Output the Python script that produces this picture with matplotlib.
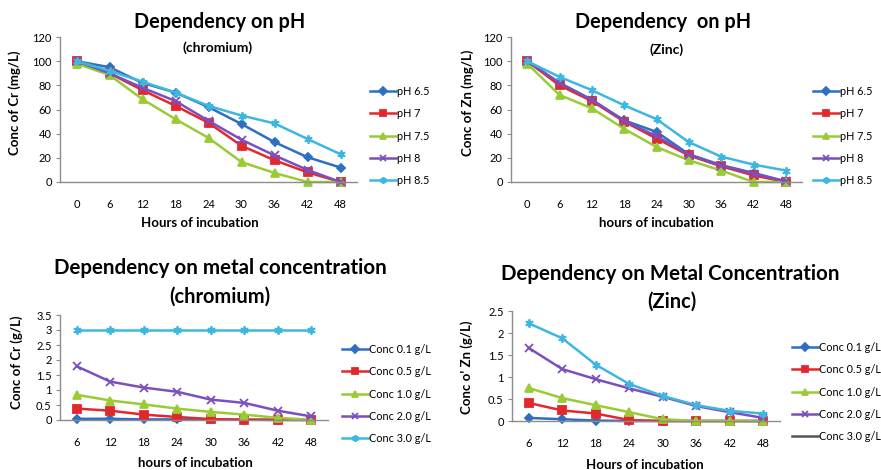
import matplotlib
matplotlib.use('Agg')
import matplotlib.pyplot as plt
from matplotlib.lines import Line2D

plt.rcParams['font.family'] = ['Lato', 'DejaVu Sans']

# data
hours_ph = ['0', '6', '12', '18', '24', '30', '36', '42', '48']
ph_labels = ['pH 6.5', 'pH 7', 'pH 7.5', 'pH 8', 'pH 8.5']

cr_ph65 = [100, 95, 82, 74, 62, 48, 33, 20.5, 12]
cr_ph7 = [100, 90, 76, 63, 49, 30, 18, 8, 0]
cr_ph75 = [98, 88.5, 68.5, 52, 36.5, 16.5, 7.5, 0, 0]
cr_ph8 = [100, 90, 78, 67, 50.7, 35, 22, 10, 0]
cr_ph85 = [100, 92, 83, 74, 63, 55, 48.5, 35.6, 23]

zn_ph65 = [100, 82, 68, 51, 41.5, 23, 14, 7.5, 0.5]
zn_ph7 = [100, 80, 67, 50, 36, 22, 13, 5.5, 0]
zn_ph75 = [98, 72, 61, 44, 29, 18, 9.5, 0, 0]
zn_ph8 = [100, 82, 68, 50.5, 38, 22.6, 13.6, 7, 0.5]
zn_ph85 = [100, 87, 76, 63.5, 52, 33, 21, 14.4, 9.5]

hours_conc = ['6', '12', '18', '24', '30', '36', '42', '48']
conc_labels = ['Conc 0.1 g/L', 'Conc 0.5 g/L', 'Conc 1.0 g/L', 'Conc 2.0 g/L', 'Conc 3.0 g/L']

cr_c01 = [0.04, 0.04, 0.02, 0.02, 0.02, 0.01, 0.01, 0.01]
cr_c05 = [0.38, 0.31, 0.18, 0.1, 0.03, 0.01, 0.0, 0.0]
cr_c10 = [0.84, 0.65, 0.52, 0.38, 0.27, 0.18, 0.07, 0.01]
cr_c20 = [1.79, 1.28, 1.08, 0.94, 0.68, 0.57, 0.31, 0.12]
cr_c30 = [3.0, 3.0, 3.0, 3.0, 3.0, 3.0, 3.0, 3.0]

zn_c01 = [0.07, 0.04, 0.01, 0.0, 0.0, 0.0, 0.0, 0.0]
zn_c05 = [0.41, 0.24, 0.17, 0.02, 0.0, 0.0, 0.0, 0.0]
zn_c10 = [0.75, 0.52, 0.36, 0.2, 0.04, 0.0, 0.0, 0.0]
zn_c20 = [1.66, 1.18, 0.95, 0.74, 0.55, 0.34, 0.2, 0.07]
zn_c30 = [2.22, 1.88, 1.28, 0.84, 0.57, 0.36, 0.23, 0.17]

colors = ['#2f6fc0', '#e2282c', '#9acb34', '#7b4fbf', '#3cb8e0']
markers = ['D', 's', '^', 'x', (6, 2, 0)]
msizes = [4.5, 5.5, 5.5, 6, 6]

fig = plt.figure(figsize=(8.81, 4.70), dpi=100)
W, H = 881.0, 470.0


def make_axes(l, r, t, b):
    return fig.add_axes([l / W, 1 - b / H, (r - l) / W, (b - t) / H])


def style(ax, ymax, ystep, xlabel, ylabel, xl, yl):
    for s in ['top', 'right']:
        ax.spines[s].set_visible(False)
    for s in ['left', 'bottom']:
        ax.spines[s].set_color('#8c8c8c')
        ax.spines[s].set_linewidth(1.0)
    ax.set_ylim(0, ymax)
    ticks = [i * ystep for i in range(int(round(ymax / ystep)) + 1)]
    ax.set_yticks(ticks)
    ax.set_yticklabels(['%g' % v for v in ticks])
    ax.tick_params(axis='y', length=3, color='#8c8c8c', labelsize=8, pad=3)
    ax.tick_params(axis='x', length=0, labelsize=8, pad=12)
    ax.set_xlabel(xlabel, fontsize=9.5, fontweight='bold', va='center')
    ax.set_ylabel(ylabel, fontsize=9.5, fontweight='bold', va='center')
    ax.xaxis.set_label_coords(*xl)
    ax.yaxis.set_label_coords(*yl)


def draw(ax, x, series, labels):
    for i, ys in enumerate(series):
        ax.plot(x, ys, color=colors[i], lw=1.8, marker=markers[i],
                markersize=msizes[i], mew=1.3, label=labels[i], clip_on=False)
    ax.set_xlim(-0.5, len(x) - 0.5)


def legend(ax, x0, yc, handles=None, labels=None):
    kw = dict(loc='center left', bbox_to_anchor=(x0 / W, 1 - yc / H),
              bbox_transform=fig.transFigure, frameon=False, fontsize=7.8,
              handlelength=2.4, handletextpad=0.1, labelspacing=1.05,
              borderpad=0, borderaxespad=0, markerscale=0.8)
    if handles is None:
        ax.legend(**kw)
    else:
        ax.legend(handles, labels, **kw)


# top left: chromium, pH
ax1 = make_axes(60, 357, 37, 182)
draw(ax1, hours_ph, [cr_ph65, cr_ph7, cr_ph75, cr_ph8, cr_ph85], ph_labels)
style(ax1, 120, 20, 'Hours of incubation', 'Conc of Cr (mg/L)',
      (0.47, -0.283), (-0.152, 0.545))
legend(ax1, 370, 136)

# top right: zinc, pH
ax2 = make_axes(511, 802, 37, 182)
draw(ax2, hours_ph, [zn_ph65, zn_ph7, zn_ph75, zn_ph8, zn_ph85], ph_labels)
style(ax2, 120, 20, 'hours of incubation', 'Conc of Zn (mg/L)',
      (0.50, -0.283), (-0.148, 0.545))
legend(ax2, 813, 136)

# bottom left: chromium, concentration
ax3 = make_axes(60, 328, 315, 420)
draw(ax3, hours_conc, [cr_c01, cr_c05, cr_c10, cr_c20, cr_c30], conc_labels)
style(ax3, 3.5, 0.5, 'hours of incubation', 'Conc of Cr (g/L)',
      (0.504, -0.41), (-0.16, 0.55))
legend(ax3, 342, 394)

# bottom right: zinc, concentration (3.0 g/L drawn in cyan, legend shows grey line)
ax4 = make_axes(512, 780, 311, 421)
draw(ax4, hours_conc, [zn_c01, zn_c05, zn_c10, zn_c20, zn_c30], conc_labels)
style(ax4, 2.5, 0.5, 'Hours of incubation', "Conc o' Zn (g/L)",
      (0.496, -0.40), (-0.168, 0.49))
h4 = ax4.get_lines()[:4] + [Line2D([], [], color='#555555', lw=1.8)]
legend(ax4, 792, 392, h4, conc_labels)

# titles
def title(x, y, s, size):
    fig.text(x / W, 1 - y / H, s, ha='center', va='center',
             fontsize=size, fontweight='bold')


title(220, 22, 'Dependency on pH', 14.3)
title(218, 48, '(chromium)', 10)
title(663, 22, 'Dependency  on pH', 14.3)
title(667, 50, '(Zinc)', 10)
title(220, 268, 'Dependency on metal concentration', 14.8)
title(220, 297, '(chromium)', 14.4)
title(670, 274, 'Dependency on Metal Concentration', 14.8)
title(672, 302, '(Zinc)', 14.4)

fig.savefig('out.png', dpi=100)
